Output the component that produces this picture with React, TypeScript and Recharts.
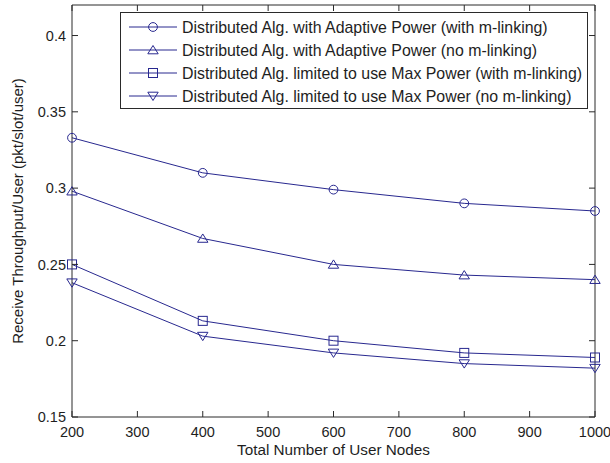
import React from 'react';
import { LineChart, Line, XAxis, YAxis, Legend, Label, ReferenceLine } from 'recharts';

// Network size (number of user nodes) on the x axis
const NODES = [200, 400, 600, 800, 1000];

// Receive throughput per user (pkt/slot/user) for each algorithm variant
const ADAPTIVE_MLINK = [0.333, 0.310, 0.299, 0.290, 0.285];
const ADAPTIVE_NO_MLINK = [0.298, 0.267, 0.250, 0.243, 0.240];
const MAXPOWER_MLINK = [0.250, 0.213, 0.200, 0.192, 0.189];
const MAXPOWER_NO_MLINK = [0.238, 0.203, 0.192, 0.185, 0.182];

const X_TICKS = [200, 300, 400, 500, 600, 700, 800, 900, 1000];
const Y_TICKS = [0.15, 0.2, 0.25, 0.3, 0.35, 0.4];
const Y_TICK_LABELS = ['0.15', '0.2', '0.25', '0.3', '0.35', '0.4'];
const X_DOMAIN: [number, number] = [200, 1000];
const Y_DOMAIN: [number, number] = [0.15, 0.42];

const X_LABEL = 'Total Number of User Nodes';
const Y_LABEL = 'Receive Throughput/User (pkt/slot/user)';

type MarkerShape = 'circle' | 'up' | 'square' | 'down';

const SERIES: { key: string; name: string; values: number[]; marker: MarkerShape }[] = [
  { key: 'adaptiveMlink', name: 'Distributed Alg. with Adaptive Power (with m-linking)', values: ADAPTIVE_MLINK, marker: 'circle' },
  { key: 'adaptiveNoMlink', name: 'Distributed Alg. with Adaptive Power (no m-linking)', values: ADAPTIVE_NO_MLINK, marker: 'up' },
  { key: 'maxMlink', name: 'Distributed Alg. limited to use Max Power (with m-linking)', values: MAXPOWER_MLINK, marker: 'square' },
  { key: 'maxNoMlink', name: 'Distributed Alg. limited to use Max Power (no m-linking)', values: MAXPOWER_NO_MLINK, marker: 'down' },
];

const rows = NODES.map((n, i) => {
  const row: Record<string, number> = { nodes: n };
  SERIES.forEach((s) => {
    row[s.key] = s.values[i];
  });
  return row;
});

const CHART_W = 610;
const CHART_H = 463;
const MARGIN = { top: 5, right: 15, bottom: 0, left: 0 };
const PLOT_TOP = MARGIN.top;
const PLOT_RIGHT = CHART_W - MARGIN.right;

const LINE_COLOR = '#28288f';
const FRAME_COLOR = '#2a2a2a';
const TEXT_COLOR = '#1e1e1e';
const FONT = '"Liberation Sans", Arial, sans-serif';
const TICK_LEN = 6;

function Marker({ shape, cx, cy }: { shape: MarkerShape; cx: number; cy: number }) {
  const common = { fill: 'none', stroke: LINE_COLOR, strokeWidth: 1 };
  switch (shape) {
    case 'circle':
      return <circle cx={cx} cy={cy} r={4.4} {...common} />;
    case 'square':
      return <rect x={cx - 4.5} y={cy - 4.5} width={9} height={9} {...common} />;
    case 'up':
      return <polygon points={`${cx},${cy - 4.5} ${cx + 5.2},${cy + 3.8} ${cx - 5.2},${cy + 3.8}`} {...common} />;
    default:
      return <polygon points={`${cx},${cy + 4.5} ${cx + 5.2},${cy - 3.8} ${cx - 5.2},${cy - 3.8}`} {...common} />;
  }
}

const makeDot = (shape: MarkerShape) => (props: any) => {
  const { cx, cy, index } = props;
  if (cx == null || cy == null) return <g key={`d-${shape}-${index}`} />;
  return (
    <g key={`d-${shape}-${index}`}>
      <Marker shape={shape} cx={cx} cy={cy} />
    </g>
  );
};

// Bottom axis tick: label below, inward tick marks on the bottom and top edges of the box
const XTick = (props: any) => {
  const { x, y, payload } = props;
  return (
    <g>
      <line x1={x} y1={y} x2={x} y2={y - TICK_LEN} stroke={FRAME_COLOR} strokeWidth={1} />
      <line x1={x} y1={PLOT_TOP} x2={x} y2={PLOT_TOP + TICK_LEN} stroke={FRAME_COLOR} strokeWidth={1} />
      <text x={x} y={y + 20} textAnchor="middle" fontSize={14.5} fontFamily={FONT} fill={TEXT_COLOR}>
        {String(payload.value)}
      </text>
    </g>
  );
};

// Left axis tick: label on the left, inward tick marks on the left and right edges of the box
const YTick = (props: any) => {
  const { x, y, payload } = props;
  const idx = Y_TICKS.indexOf(payload.value);
  return (
    <g>
      <line x1={x} y1={y} x2={x + TICK_LEN} y2={y} stroke={FRAME_COLOR} strokeWidth={1} />
      <line x1={PLOT_RIGHT} y1={y} x2={PLOT_RIGHT - TICK_LEN} y2={y} stroke={FRAME_COLOR} strokeWidth={1} />
      <text x={x - 6} y={y + 5.3} textAnchor="end" fontSize={14.5} fontFamily={FONT} fill={TEXT_COLOR}>
        {idx >= 0 ? Y_TICK_LABELS[idx] : String(payload.value)}
      </text>
    </g>
  );
};

function LegendBox() {
  const rowH = 23;
  return (
    <div
      style={{
        width: 468,
        height: 97,
        boxSizing: 'border-box',
        border: `1px solid ${FRAME_COLOR}`,
        background: '#ffffff',
      }}
    >
      <svg width={466} height={95} style={{ display: 'block' }}>
        {SERIES.map((s, i) => {
          const cy = 14 + i * rowH;
          return (
            <g key={s.key}>
              <line x1={8} y1={cy} x2={56} y2={cy} stroke={LINE_COLOR} strokeWidth={1} />
              <Marker shape={s.marker} cx={32} cy={cy} />
              <text x={61} y={cy + 5.5} fontSize={15.9} fontFamily={FONT} fill={TEXT_COLOR}>
                {s.name}
              </text>
            </g>
          );
        })}
      </svg>
    </div>
  );
}

export default function App() {
  return (
    <div style={{ position: 'absolute', left: 0, top: 0, width: CHART_W, height: CHART_H, background: '#ffffff' }}>
      <LineChart width={CHART_W} height={CHART_H} data={rows} margin={MARGIN}>
        <XAxis
          dataKey="nodes"
          type="number"
          domain={X_DOMAIN}
          ticks={X_TICKS}
          height={46}
          tickSize={0}
          tickMargin={0}
          tickLine={false}
          axisLine={{ stroke: FRAME_COLOR }}
          tick={XTick}
          interval={0}
        >
          <Label
            value={X_LABEL}
            content={(p: any) => {
              const vb = p.viewBox;
              return (
                <text x={vb.x + vb.width / 2} y={vb.y + 38} textAnchor="middle" fontSize={15.3} fontFamily={FONT} fill={TEXT_COLOR}>
                  {X_LABEL}
                </text>
              );
            }}
          />
        </XAxis>
        <YAxis
          type="number"
          domain={Y_DOMAIN}
          ticks={Y_TICKS}
          width={72}
          tickSize={0}
          tickMargin={0}
          tickLine={false}
          axisLine={{ stroke: FRAME_COLOR }}
          tick={YTick}
          interval={0}
        >
          <Label
            value={Y_LABEL}
            content={(p: any) => {
              const vb = p.viewBox;
              const cx = 23;
              const cy = vb.y + vb.height / 2;
              return (
                <text
                  x={cx}
                  y={cy}
                  transform={`rotate(-90, ${cx}, ${cy})`}
                  textAnchor="middle"
                  fontSize={15}
                  fontFamily={FONT}
                  fill={TEXT_COLOR}
                >
                  {Y_LABEL}
                </text>
              );
            }}
          />
        </YAxis>
        {/* top and right edges of the axes box */}
        <ReferenceLine y={Y_DOMAIN[1]} stroke={FRAME_COLOR} strokeWidth={1} />
        <ReferenceLine x={X_DOMAIN[1]} stroke={FRAME_COLOR} strokeWidth={1} />
        {SERIES.map((s) => (
          <Line
            key={s.key}
            dataKey={s.key}
            name={s.name}
            type="linear"
            stroke={LINE_COLOR}
            strokeWidth={1}
            dot={makeDot(s.marker)}
            activeDot={false}
            isAnimationActive={false}
          />
        ))}
        <Legend
          layout="vertical"
          align="center"
          verticalAlign="middle"
          wrapperStyle={{ left: 120, top: 12, width: 468, height: 97 }}
          content={() => <LegendBox />}
        />
      </LineChart>
    </div>
  );
}
